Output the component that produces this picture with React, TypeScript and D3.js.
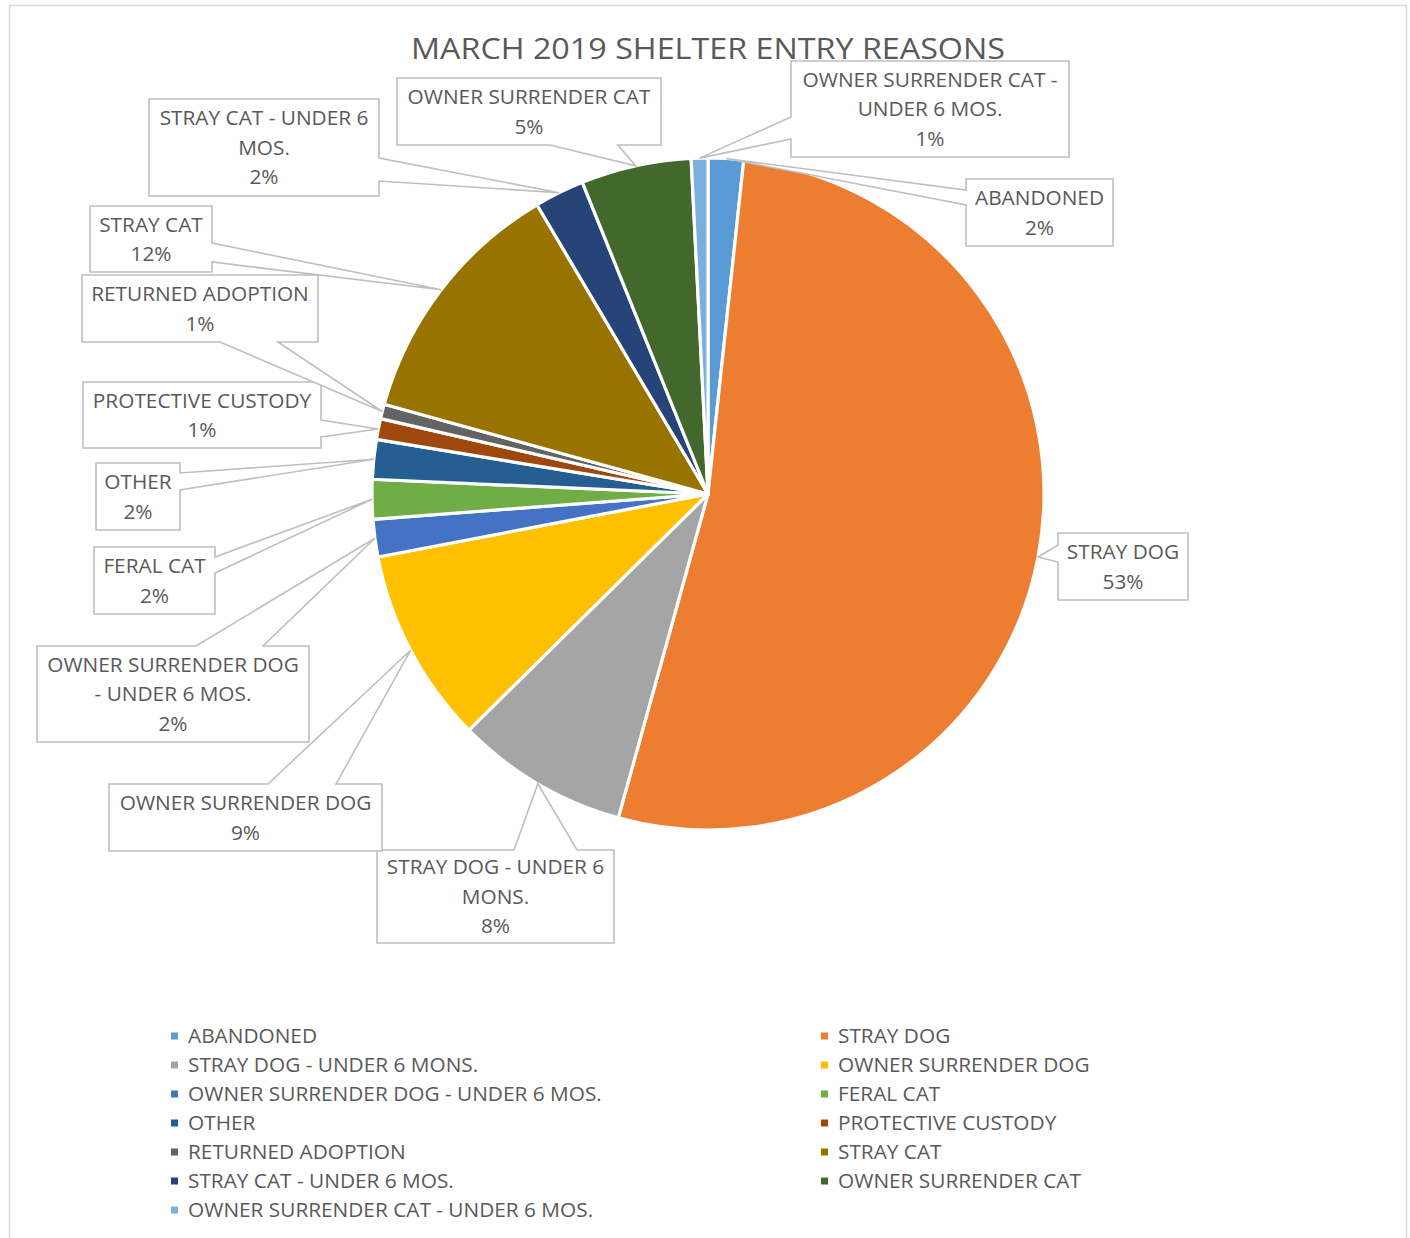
import React from "react";
import * as d3 from "d3";

const categories = [
  "ABANDONED",
  "STRAY DOG",
  "STRAY DOG - UNDER 6 MONS.",
  "OWNER SURRENDER DOG",
  "OWNER SURRENDER DOG - UNDER 6 MOS.",
  "FERAL CAT",
  "OTHER",
  "PROTECTIVE CUSTODY",
  "RETURNED ADOPTION",
  "STRAY CAT",
  "STRAY CAT - UNDER 6 MOS.",
  "OWNER SURRENDER CAT",
  "OWNER SURRENDER CAT - UNDER 6 MOS.",
];

const values = [1.7, 52.6, 8.3, 9.4, 1.8, 1.9, 1.9, 1.0, 0.7, 12.2, 2.4, 5.3, 0.8];

const colors = [
  "#5B9BD5", "#ED7D31", "#A5A5A5", "#FFC000", "#4472C4", "#70AD47",
  "#255E91", "#9E480E", "#636363", "#997300", "#264478", "#43682B", "#7CAFDD",
];

const labelLines = [
  ["ABANDONED"],
  ["STRAY DOG"],
  ["STRAY DOG - UNDER 6", "MONS."],
  ["OWNER SURRENDER DOG"],
  ["OWNER SURRENDER DOG", "- UNDER 6 MOS."],
  ["FERAL CAT"],
  ["OTHER"],
  ["PROTECTIVE CUSTODY"],
  ["RETURNED ADOPTION"],
  ["STRAY CAT"],
  ["STRAY CAT - UNDER 6", "MOS."],
  ["OWNER SURRENDER CAT"],
  ["OWNER SURRENDER CAT -", "UNDER 6 MOS."],
];

const title = "MARCH 2019 SHELTER ENTRY REASONS";

// callout layout: box x, y, w, h, pointer side, pointer base positions
const boxes = [
  { x: 966, y: 179, w: 147, h: 67, side: "left", a: 190, b: 205 },
  { x: 1058, y: 533, w: 130, h: 67, side: "left", a: 545, b: 562 },
  { x: 377, y: 850, w: 237, h: 93, side: "top", a: 514, b: 577 },
  { x: 109, y: 784, w: 273, h: 67, side: "top", a: 268, b: 336 },
  { x: 37, y: 646, w: 272, h: 96, side: "top", a: 196, b: 263 },
  { x: 94, y: 547, w: 121, h: 67, side: "right", a: 557, b: 573 },
  { x: 96, y: 463, w: 84, h: 67, side: "right", a: 473, b: 490 },
  { x: 83, y: 382, w: 238, h: 66, side: "right", a: 420, b: 437 },
  { x: 82, y: 275, w: 236, h: 67, side: "bottom", a: 220, b: 278 },
  { x: 90, y: 206, w: 122, h: 66, side: "right", a: 243, b: 262 },
  { x: 149, y: 99, w: 230, h: 97, side: "right", a: 158, b: 181 },
  { x: 397, y: 78, w: 264, h: 67, side: "bottom", a: 550, b: 618 },
  { x: 791, y: 61, w: 278, h: 96, side: "left", a: 117, b: 139 },
];

const W = 1410;
const H = 1238;
const cx = 708;
const cy = 494;
const R = 336;
const FONT = "'Open Sans', 'DejaVu Sans', sans-serif";
const TEXT = "#595959";
const BORDER = "#BFBFBF";
const FS = 20.8;

function calloutPath(b: any, tx: number, ty: number) {
  const { x, y, w, h, side, a, b: bb } = b;
  const r = x + w;
  const btm = y + h;
  switch (side) {
    case "top":
      return `M${x},${y}L${a},${y}L${tx},${ty}L${bb},${y}L${r},${y}L${r},${btm}L${x},${btm}Z`;
    case "right":
      return `M${x},${y}L${r},${y}L${r},${a}L${tx},${ty}L${r},${bb}L${r},${btm}L${x},${btm}Z`;
    case "bottom":
      return `M${x},${y}L${r},${y}L${r},${btm}L${bb},${btm}L${tx},${ty}L${a},${btm}L${x},${btm}Z`;
    default:
      return `M${x},${y}L${r},${y}L${r},${btm}L${x},${btm}L${x},${bb}L${tx},${ty}L${x},${a}Z`;
  }
}

export default function App() {
  const data = categories.map((c, i) => ({ name: c, value: values[i], color: colors[i] }));
  const total = d3.sum(values);
  const pie = d3.pie<any>().sort(null).value((d: any) => d.value);
  const arcs = pie(data);
  const arc = d3.arc<any>().innerRadius(0).outerRadius(R);
  const tipArc = d3.arc<any>().innerRadius(R).outerRadius(R);
  const pct = (v: number) => `${Math.round((v / total) * 100)}%`;

  const legendRowH = 29;
  const legendY0 = 1036;
  const legendCols = [171, 821];

  return (
    <svg
      width={W}
      height={H}
      style={{ position: "absolute", left: 0, top: 0, background: "#fff" }}
      fontFamily={FONT}
    >
      <rect x={9.5} y={5.5} width={1397} height={1250} fill="#fff" stroke="#D9D9D9" strokeWidth={1.5} />
      <g transform={`translate(${cx},${cy})`}>
        {arcs.map((a, i) => (
          <path key={i} d={arc(a) as string} fill={a.data.color} stroke="#fff" strokeWidth={3.2} strokeLinejoin="round" />
        ))}
      </g>
      <text
        x={cx}
        y={59}
        textAnchor="middle"
        fontSize={29}
        fill={TEXT}
        textLength={594}
        lengthAdjust="spacingAndGlyphs"
      >
        {title}
      </text>
      {arcs.map((a, i) => {
        const [px, py] = tipArc.centroid(a);
        const tx = cx + px;
        const ty = cy + py;
        const b = boxes[i];
        const lines = [...labelLines[i], pct(a.data.value)];
        const lh = 29.5;
        const mid = b.y + b.h / 2;
        const start = mid - ((lines.length - 1) * lh) / 2;
        return (
          <g key={i}>
            <path d={calloutPath(b, tx, ty)} fill="#fff" stroke={BORDER} strokeWidth={1.6} strokeLinejoin="miter" />
            {lines.map((t, j) => (
              <text
                key={j}
                x={b.x + b.w / 2}
                y={start + j * lh}
                dy="0.35em"
                textAnchor="middle"
                fontSize={FS}
                fill={TEXT}
              >
                {t}
              </text>
            ))}
          </g>
        );
      })}
      {data.map((d, i) => {
        const col = i % 2;
        const row = Math.floor(i / 2);
        const x = legendCols[col];
        const y = legendY0 + row * legendRowH;
        return (
          <g key={i}>
            <rect x={x} y={y - 3.5} width={7} height={7} fill={d.color} />
            <text x={x + 17} y={y} dy="0.35em" fontSize={FS} fill={TEXT}>
              {d.name}
            </text>
          </g>
        );
      })}
    </svg>
  );
}
